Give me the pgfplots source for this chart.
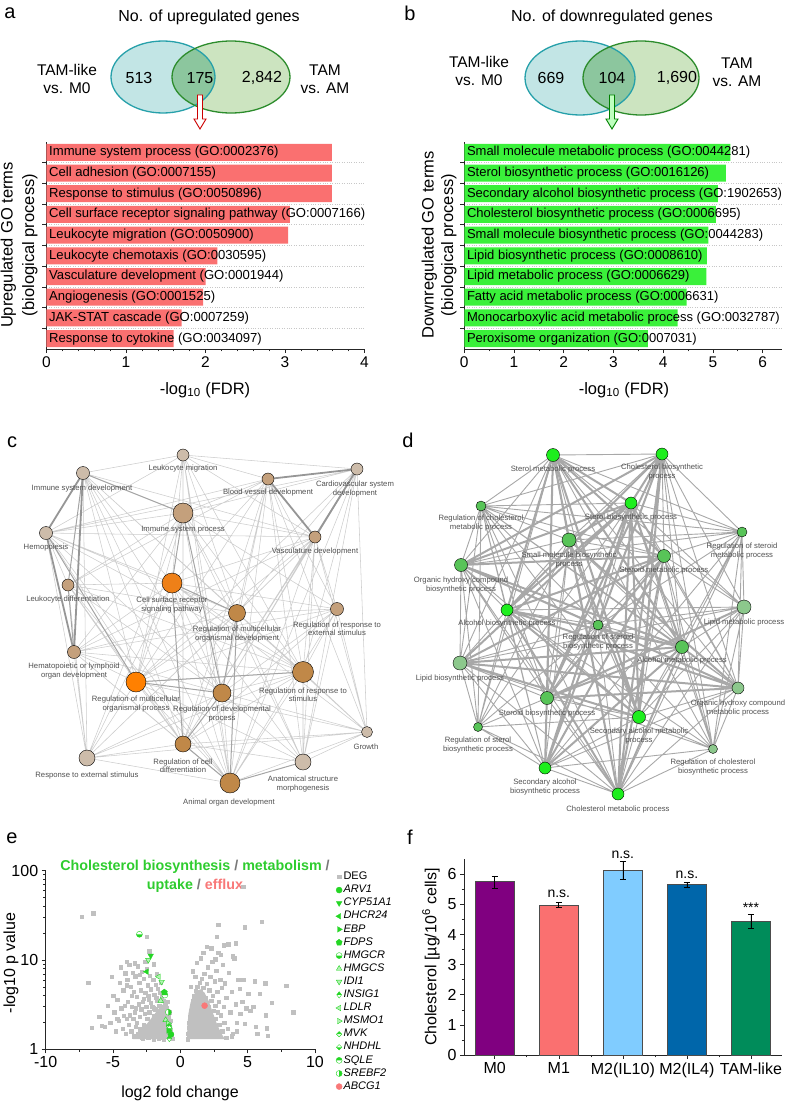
\documentclass[border=0pt]{standalone}
\usepackage{fontspec}
\setmainfont{Liberation Sans}
\usepackage{pgfplots}
\pgfplotsset{compat=1.18}
\usetikzlibrary{plotmarks}

\definecolor{barred}{RGB}{250,112,112}
\definecolor{bargreen}{RGB}{58,240,58}
\definecolor{vLfill}{RGB}{194,229,229}
\definecolor{vLdraw}{RGB}{38,160,170}
\definecolor{vRfill}{RGB}{204,228,192}
\definecolor{vRdraw}{RGB}{44,140,44}
\definecolor{vMid}{RGB}{140,198,158}
\definecolor{edgeL}{RGB}{205,205,205}
\definecolor{edgeM}{RGB}{165,165,165}
\definecolor{edgeT}{RGB}{150,150,150}
\definecolor{nPale}{RGB}{205,188,170}
\definecolor{nMed}{RGB}{196,160,124}
\definecolor{nBrown}{RGB}{192,136,72}
\definecolor{nOr1}{RGB}{238,128,24}
\definecolor{nOr2}{RGB}{255,128,0}
\definecolor{dEdge}{RGB}{168,168,168}
\definecolor{gBright}{RGB}{30,238,30}
\definecolor{gMed}{RGB}{88,196,88}
\definecolor{gPale}{RGB}{140,200,140}
\definecolor{lbl}{RGB}{80,80,80}
\definecolor{degray}{RGB}{192,192,192}
\definecolor{cgreen}{RGB}{36,214,36}
\definecolor{tgreen}{RGB}{46,204,46}
\definecolor{efflux}{RGB}{248,120,120}
\definecolor{slashg}{RGB}{120,120,120}
\definecolor{cM0}{RGB}{128,0,128}
\definecolor{cM1}{RGB}{250,112,112}
\definecolor{cIL10}{RGB}{128,204,255}
\definecolor{cIL4}{RGB}{0,102,170}
\definecolor{cTAM}{RGB}{0,140,90}

\newcommand{\lab}{\fontsize{7.7}{8.3}\selectfont\color{lbl}}

\begin{document}
\begin{tikzpicture}
\useasboundingbox (0,0) rectangle (789pt,1103pt);

%================ overlay (pixel) axis =================
\begin{axis}[at={(0pt,0pt)}, anchor=south west, scale only axis,
  width=789pt, height=1103pt, xmin=0, xmax=789, ymin=0, ymax=1103,
  y dir=reverse, hide axis, clip=false, unbounded coords=jump]

% panel letters
\node[font=\fontsize{20}{20}\selectfont] at (10,13) {a};
\node[font=\fontsize{20}{20}\selectfont] at (410,13) {b};
\node[font=\fontsize{20}{20}\selectfont] at (12,442) {c};
\node[font=\fontsize{20}{20}\selectfont] at (408,440) {d};
\node[font=\fontsize{20}{20}\selectfont] at (12,838) {e};
\node[font=\fontsize{20}{20}\selectfont] at (410,837) {f};

% ---- Venn a
\node[font=\fontsize{16}{16}\selectfont] at (209,17) {No. of upregulated genes};
\fill[vLfill] (163,77) ellipse [x radius=52pt, y radius=36pt];
\fill[vRfill] (231,77) ellipse [x radius=59pt, y radius=36pt];
\begin{scope}
\clip (163,77) ellipse [x radius=52pt, y radius=36pt];
\fill[vMid] (231,77) ellipse [x radius=59pt, y radius=36pt];
\end{scope}
\draw[vLdraw, line width=1.3pt] (163,77) ellipse [x radius=52pt, y radius=36pt];
\draw[vRdraw, line width=1.3pt] (231,77) ellipse [x radius=59pt, y radius=36pt];
\node[font=\fontsize{16}{16}\selectfont] at (139,78) {513};
\node[font=\fontsize{16}{16}\selectfont] at (200,78) {175};
\node[font=\fontsize{16}{16}\selectfont] at (262,78) {2,842};
\node[font=\fontsize{15.5}{18}\selectfont, align=center] at (67,79) {TAM-like\\vs. M0};
\node[font=\fontsize{15.5}{18}\selectfont, align=center] at (325,79) {TAM\\vs. AM};
\draw[red!80!black, fill=white, line width=0.9pt] (197.5,95) -- (202.5,95) -- (202.5,119) -- (206,119) -- (200,129) -- (194,119) -- (197.5,119) -- cycle;

% ---- Venn b
\node[font=\fontsize{16}{16}\selectfont] at (612,17) {No. of downregulated genes};
\fill[vLfill] (580,78) ellipse [x radius=55pt, y radius=37pt];
\fill[vRfill] (641,78) ellipse [x radius=58pt, y radius=37pt];
\begin{scope}
\clip (580,78) ellipse [x radius=55pt, y radius=37pt];
\fill[vMid] (641,78) ellipse [x radius=58pt, y radius=37pt];
\end{scope}
\draw[vLdraw, line width=1.3pt] (580,78) ellipse [x radius=55pt, y radius=37pt];
\draw[vRdraw, line width=1.3pt] (641,78) ellipse [x radius=58pt, y radius=37pt];
\node[font=\fontsize{16}{16}\selectfont] at (551,78) {669};
\node[font=\fontsize{16}{16}\selectfont] at (612,78) {104};
\node[font=\fontsize{16}{16}\selectfont] at (677,78) {1,690};
\node[font=\fontsize{15.5}{18}\selectfont, align=center] at (479,71) {TAM-like\\vs. M0};
\node[font=\fontsize{15.5}{18}\selectfont, align=center] at (737,72) {TAM\\vs. AM};
\draw[green!50!black, fill=green!25!white, line width=0.9pt] (609.5,95) -- (614.5,95) -- (614.5,119) -- (618,119) -- (612,129) -- (606,119) -- (609.5,119) -- cycle;

% axis titles of a, b
\node[rotate=90, align=center, font=\fontsize{16.5}{21.5}\selectfont] at (19,245) {Upregulated GO terms\\(biological process)};
\node[rotate=90, align=center, font=\fontsize{16.5}{19.5}\selectfont] at (439,245) {Downregulated GO terms\\(biological process)};
\node[font=\fontsize{16.5}{16.5}\selectfont] at (205,390) {-log\textsubscript{10} (FDR)};
\node[font=\fontsize{16.5}{16.5}\selectfont] at (624,390) {-log\textsubscript{10} (FDR)};

% ---- network c: edges
\addplot[edgeL, line width=0.55pt, line join=round, line cap=round] coordinates {
(183,455) (83,473) (183,455) (357,469) (183,455) (183,513) (183,455) (268,479) (183,455) (172,583) (183,455) (237,613) (183,455) (222,693) (183,455) (136,682) (183,455) (183,744) (183,455) (315,537) (183,455) (46,533) (183,455) (303,672) (183,455) (230,783) (nan,nan)
(83,473) (183,513) (83,473) (172,583) (83,473) (237,613) (83,473) (136,682) (83,473) (222,693) (83,473) (183,744) (83,473) (303,672) (83,473) (230,783) (83,473) (87,758) (83,473) (315,537) (nan,nan)
(268,479) (183,513) (268,479) (46,533) (268,479) (172,583) (268,479) (237,613) (268,479) (337,609) (268,479) (222,693) (268,479) (303,672) (268,479) (183,744) (268,479) (230,783) (268,479) (303,762) (268,479) (367,732) (268,479) (136,682) (268,479) (68,585) (nan,nan)
(357,469) (183,513) (357,469) (237,613) (357,469) (303,672) (357,469) (222,693) (357,469) (183,744) (357,469) (230,783) (357,469) (303,762) (357,469) (367,732) (357,469) (136,682) (357,469) (46,533) (nan,nan)
(183,513) (46,533) (183,513) (315,537) (183,513) (237,613) (183,513) (136,682) (183,513) (303,672) (183,513) (183,744) (183,513) (230,783) (183,513) (87,758) (183,513) (74,652) (183,513) (68,585) (183,513) (337,609) (183,513) (303,762) (nan,nan)
(46,533) (68,585) (46,533) (172,583) (46,533) (237,613) (46,533) (222,693) (46,533) (183,744) (46,533) (230,783) (46,533) (87,758) (46,533) (315,537) (46,533) (303,672) (nan,nan)
(315,537) (172,583) (315,537) (237,613) (315,537) (136,682) (315,537) (222,693) (315,537) (183,744) (315,537) (230,783) (315,537) (303,762) (315,537) (367,732) (315,537) (337,609) (315,537) (74,652) (315,537) (303,672) (315,537) (87,758) (nan,nan)
(68,585) (172,583) (68,585) (136,682) (68,585) (222,693) (68,585) (183,744) (68,585) (230,783) (68,585) (87,758) (68,585) (237,613) (68,585) (303,672) (nan,nan)
(172,583) (337,609) (172,583) (136,682) (172,583) (222,693) (172,583) (303,672) (172,583) (230,783) (172,583) (303,762) (172,583) (87,758) (172,583) (74,652) (172,583) (367,732) (nan,nan)
(237,613) (337,609) (237,613) (136,682) (237,613) (303,672) (237,613) (183,744) (237,613) (303,762) (237,613) (74,652) (237,613) (87,758) (237,613) (367,732) (nan,nan)
(337,609) (136,682) (337,609) (222,693) (337,609) (303,672) (337,609) (183,744) (337,609) (230,783) (337,609) (303,762) (337,609) (367,732) (337,609) (74,652) (nan,nan)
(74,652) (136,682) (74,652) (222,693) (74,652) (183,744) (74,652) (230,783) (74,652) (87,758) (74,652) (303,672) (nan,nan)
(136,682) (303,672) (136,682) (183,744) (136,682) (230,783) (136,682) (87,758) (136,682) (303,762) (136,682) (367,732) (nan,nan)
(222,693) (303,672) (222,693) (230,783) (222,693) (303,762) (222,693) (87,758) (222,693) (367,732) (nan,nan)
(303,672) (183,744) (303,672) (230,783) (303,672) (303,762) (303,672) (367,732) (303,672) (87,758) (nan,nan)
(183,744) (303,762) (183,744) (87,758) (183,744) (367,732) (nan,nan)
(367,732) (303,762) (367,732) (230,783) (367,732) (87,758) (nan,nan)
(230,783) (87,758)
};
\addplot[edgeM, line width=1pt, line cap=round] coordinates {
(83,473) (183,513) (nan,nan) (83,473) (68,585) (nan,nan) (46,533) (136,682) (nan,nan)
(172,583) (237,613) (nan,nan) (136,682) (222,693) (nan,nan) (237,613) (222,693) (nan,nan)
(222,693) (183,744) (nan,nan) (183,744) (230,783) (nan,nan) (230,783) (303,762) (nan,nan)
(237,613) (230,783) (nan,nan) (183,513) (222,693) (nan,nan) (183,513) (172,583) (nan,nan)
(172,583) (183,744) (nan,nan) (68,585) (74,652) (nan,nan) (136,682) (303,672)
};
\addplot[edgeT, line width=1.8pt, line cap=round] coordinates {
(83,473) (46,533) (nan,nan) (83,473) (74,652) (nan,nan) (46,533) (74,652) (nan,nan)
(268,479) (315,537) (nan,nan) (357,469) (315,537) (nan,nan) (268,479) (357,469)
};
% ---- network c: nodes
\addplot[only marks, mark=*, mark size=6pt, mark options={draw=none, fill=nPale}] coordinates {(183,455)};
\addplot[only marks, mark=*, mark size=6.5pt, mark options={draw=none, fill=nPale}] coordinates {(83,473)};
\addplot[only marks, mark=*, mark size=6pt, mark options={draw=none, fill=nMed}] coordinates {(268,479)};
\addplot[only marks, mark=*, mark size=6pt, mark options={draw=none, fill=nPale}] coordinates {(357,469)};
\addplot[only marks, mark=*, mark size=10pt, mark options={draw=none, fill=nMed}] coordinates {(183,513)};
\addplot[only marks, mark=*, mark size=6.5pt, mark options={draw=none, fill=nPale}] coordinates {(46,533)};
\addplot[only marks, mark=*, mark size=6pt, mark options={draw=none, fill=nMed}] coordinates {(315,537)};
\addplot[only marks, mark=*, mark size=6pt, mark options={draw=none, fill=nMed}] coordinates {(68,585)};
\addplot[only marks, mark=*, mark size=10pt, mark options={draw=none, fill=nOr1}] coordinates {(172,583)};
\addplot[only marks, mark=*, mark size=8.5pt, mark options={draw=none, fill=nBrown}] coordinates {(237,613)};
\addplot[only marks, mark=*, mark size=6.5pt, mark options={draw=none, fill=nMed}] coordinates {(337,609)};
\addplot[only marks, mark=*, mark size=6.5pt, mark options={draw=none, fill=nMed}] coordinates {(74,652)};
\addplot[only marks, mark=*, mark size=10pt, mark options={draw=none, fill=nOr2}] coordinates {(136,682)};
\addplot[only marks, mark=*, mark size=9pt, mark options={draw=none, fill=nBrown}] coordinates {(222,693)};
\addplot[only marks, mark=*, mark size=10.5pt, mark options={draw=none, fill=nBrown}] coordinates {(303,672)};
\addplot[only marks, mark=*, mark size=5.5pt, mark options={draw=none, fill=nPale}] coordinates {(367,732)};
\addplot[only marks, mark=*, mark size=8pt, mark options={draw=none, fill=nBrown}] coordinates {(183,744)};
\addplot[only marks, mark=*, mark size=8pt, mark options={draw=none, fill=nPale}] coordinates {(87,758)};
\addplot[only marks, mark=*, mark size=8pt, mark options={draw=none, fill=nPale}] coordinates {(303,762)};
\addplot[only marks, mark=*, mark size=10pt, mark options={draw=none, fill=nBrown}] coordinates {(230,783)};
% ---- network c: labels
\node[font=\lab] at (183,469) {Leukocyte migration};
\node[font=\lab] at (82,489) {Immune system development};
\node[font=\lab] at (268,493) {Blood vessel development};
\node[font=\lab, align=center] at (355,489) {Cardiovascular system\\development};
\node[font=\lab] at (183,530) {Immune system process};
\node[font=\lab] at (46,548) {Hemopoiesis};
\node[font=\lab] at (315,552) {Vasculature development};
\node[font=\lab] at (68,600) {Leukocyte differentiation};
\node[font=\lab, align=center] at (172,605) {Cell surface receptor\\signaling pathway};
\node[font=\lab, align=center] at (237,634) {Regulation of multicellular\\organismal development};
\node[font=\lab, align=center] at (337,629) {Regulation of response to\\external stimulus};
\node[font=\lab, align=center] at (74,671) {Hematopoietic or lymphoid\\organ development};
\node[font=\lab, align=center] at (136,704) {Regulation of multicellular\\organismal process};
\node[font=\lab, align=center] at (222,714) {Regulation of developmental\\process};
\node[font=\lab, align=center] at (303,695) {Regulation of response to\\stimulus};
\node[font=\lab] at (366,747) {Growth};
\node[font=\lab, align=center] at (183,766) {Regulation of cell\\differentiation};
\node[font=\lab] at (87,775) {Response to external stimulus};
\node[font=\lab, align=center] at (303,784) {Anatomical structure\\morphogenesis};
\node[font=\lab] at (229,802) {Animal organ development};

% ---- network d: edges
\addplot[dEdge, line width=0.9pt, line join=round, line cap=round] coordinates {
(553,455) (662,454) (553,455) (481,506) (553,455) (742,532) (553,455) (461,565) (553,455) (598,625) (553,455) (460,663) (553,455) (744,607) (553,455) (738,688) (553,455) (478,727) (553,455) (713,749) (nan,nan)
(662,454) (481,506) (662,454) (742,532) (662,454) (569,540) (662,454) (664,556) (662,454) (598,625) (662,454) (682,647) (662,454) (744,607) (662,454) (738,688) (662,454) (713,749) (nan,nan)
(631,503) (481,506) (631,503) (742,532) (631,503) (664,556) (631,503) (598,625) (631,503) (744,607) (631,503) (738,688) (631,503) (478,727) (631,503) (713,749) (nan,nan)
(481,506) (742,532) (481,506) (569,540) (481,506) (664,556) (481,506) (461,565) (481,506) (507,610) (481,506) (598,625) (481,506) (682,647) (481,506) (460,663) (481,506) (547,698) (481,506) (639,717) (481,506) (545,768) (481,506) (618,794) (481,506) (478,727) (481,506) (738,688) (nan,nan)
(742,532) (569,540) (742,532) (664,556) (742,532) (461,565) (742,532) (744,607) (742,532) (598,625) (742,532) (682,647) (742,532) (738,688) (742,532) (713,749) (742,532) (639,717) (742,532) (545,768) (742,532) (618,794) (nan,nan)
(569,540) (664,556) (569,540) (461,565) (569,540) (507,610) (569,540) (598,625) (569,540) (682,647) (569,540) (460,663) (569,540) (547,698) (569,540) (545,768) (569,540) (478,727) (nan,nan)
(664,556) (598,625) (664,556) (682,647) (664,556) (744,607) (664,556) (738,688) (664,556) (639,717) (664,556) (713,749) (nan,nan)
(461,565) (507,610) (461,565) (598,625) (461,565) (460,663) (461,565) (547,698) (461,565) (639,717) (461,565) (478,727) (461,565) (545,768) (461,565) (618,794) (nan,nan)
(507,610) (598,625) (507,610) (460,663) (507,610) (547,698) (507,610) (478,727) (507,610) (545,768) (507,610) (744,607) (507,610) (713,749) (nan,nan)
(744,607) (598,625) (744,607) (682,647) (744,607) (738,688) (744,607) (639,717) (744,607) (713,749) (744,607) (618,794) (744,607) (460,663) (nan,nan)
(598,625) (682,647) (598,625) (460,663) (598,625) (547,698) (598,625) (639,717) (598,625) (478,727) (598,625) (713,749) (598,625) (545,768) (598,625) (618,794) (nan,nan)
(682,647) (738,688) (682,647) (639,717) (682,647) (713,749) (nan,nan)
(460,663) (547,698) (460,663) (478,727) (460,663) (545,768) (460,663) (618,794) (460,663) (713,749) (nan,nan)
(738,688) (639,717) (738,688) (713,749) (738,688) (545,768) (738,688) (618,794) (nan,nan)
(547,698) (639,717) (547,698) (478,727) (547,698) (545,768) (547,698) (618,794) (nan,nan)
(639,717) (478,727) (639,717) (713,749) (639,717) (545,768) (639,717) (618,794) (nan,nan)
(478,727) (545,768) (478,727) (618,794) (nan,nan)
(713,749) (545,768) (713,749) (618,794) (nan,nan)
(545,768) (618,794)
};
\addplot[dEdge, line width=2pt, line join=round, line cap=round] coordinates {
(553,455) (631,503) (553,455) (569,540) (553,455) (507,610) (553,455) (547,698) (553,455) (545,768) (553,455) (618,794) (553,455) (639,717) (553,455) (682,647) (553,455) (664,556) (nan,nan)
(662,454) (631,503) (662,454) (507,610) (662,454) (547,698) (662,454) (545,768) (662,454) (618,794) (662,454) (639,717) (662,454) (461,565) (nan,nan)
(631,503) (569,540) (631,503) (507,610) (631,503) (547,698) (631,503) (545,768) (631,503) (618,794) (631,503) (639,717) (631,503) (682,647) (631,503) (460,663) (631,503) (461,565) (nan,nan)
(664,556) (461,565) (664,556) (507,610) (664,556) (547,698) (664,556) (545,768) (664,556) (618,794) (664,556) (460,663) (nan,nan)
(507,610) (682,647) (507,610) (639,717) (507,610) (738,688) (507,610) (618,794) (nan,nan)
(682,647) (547,698) (682,647) (545,768) (682,647) (460,663) (682,647) (618,794) (nan,nan)
(569,540) (639,717) (569,540) (618,794) (569,540) (738,688) (nan,nan)
(460,663) (738,688) (460,663) (639,717) (nan,nan)
(547,698) (744,607) (547,698) (738,688) (nan,nan)
(461,565) (738,688) (461,565) (682,647)
};
% ---- network d: nodes
\addplot[only marks, mark=*, mark size=6.5pt, mark options={draw=none, fill=gBright}] coordinates {(553,455)};
\addplot[only marks, mark=*, mark size=6pt, mark options={draw=none, fill=gBright}] coordinates {(662,454)};
\addplot[only marks, mark=*, mark size=6pt, mark options={draw=none, fill=gBright}] coordinates {(631,503)};
\addplot[only marks, mark=*, mark size=5pt, mark options={draw=none, fill=gMed}] coordinates {(481,506)};
\addplot[only marks, mark=*, mark size=5pt, mark options={draw=none, fill=gMed}] coordinates {(742,532)};
\addplot[only marks, mark=*, mark size=7pt, mark options={draw=none, fill=gMed}] coordinates {(569,540)};
\addplot[only marks, mark=*, mark size=6.5pt, mark options={draw=none, fill=gMed}] coordinates {(664,556)};
\addplot[only marks, mark=*, mark size=6.5pt, mark options={draw=none, fill=gMed}] coordinates {(461,565)};
\addplot[only marks, mark=*, mark size=6pt, mark options={draw=none, fill=gBright}] coordinates {(507,610)};
\addplot[only marks, mark=*, mark size=7pt, mark options={draw=none, fill=gPale}] coordinates {(744,607)};
\addplot[only marks, mark=*, mark size=5pt, mark options={draw=none, fill=gMed}] coordinates {(598,625)};
\addplot[only marks, mark=*, mark size=6.5pt, mark options={draw=none, fill=gMed}] coordinates {(682,647)};
\addplot[only marks, mark=*, mark size=7pt, mark options={draw=none, fill=gPale}] coordinates {(460,663)};
\addplot[only marks, mark=*, mark size=6pt, mark options={draw=none, fill=gPale}] coordinates {(738,688)};
\addplot[only marks, mark=*, mark size=6.5pt, mark options={draw=none, fill=gMed}] coordinates {(547,698)};
\addplot[only marks, mark=*, mark size=6.5pt, mark options={draw=none, fill=gBright}] coordinates {(639,717)};
\addplot[only marks, mark=*, mark size=4.5pt, mark options={draw=none, fill=gMed}] coordinates {(478,727)};
\addplot[only marks, mark=*, mark size=4.5pt, mark options={draw=none, fill=gPale}] coordinates {(713,749)};
\addplot[only marks, mark=*, mark size=6pt, mark options={draw=none, fill=gBright}] coordinates {(545,768)};
\addplot[only marks, mark=*, mark size=6pt, mark options={draw=none, fill=gBright}] coordinates {(618,794)};
% ---- network d: labels
\node[font=\lab] at (553,470) {Sterol metabolic process};
\node[font=\lab, align=center] at (662,472) {Cholesterol biosynthetic\\process};
\node[font=\lab] at (631,518) {Sterol biosynthetic process};
\node[font=\lab, align=center] at (481,523) {Regulation of cholesterol\\metabolic process};
\node[font=\lab, align=center] at (742,551) {Regulation of steroid\\metabolic process};
\node[font=\lab, align=center] at (569,560) {Small molecule biosynthetic\\process};
\node[font=\lab] at (664,571) {Steroid metabolic process};
\node[font=\lab, align=center] at (461,585) {Organic hydroxy compound\\biosynthetic process};
\node[font=\lab] at (507,624) {Alcohol biosynthetic process};
\node[font=\lab] at (744,623) {Lipid metabolic process};
\node[font=\lab, align=center] at (598,642) {Regulation of steroid\\biosynthetic process};
\node[font=\lab] at (682,661) {Alcohol metabolic process};
\node[font=\lab] at (460,679) {Lipid biosynthetic process};
\node[font=\lab, align=center] at (738,708) {Organic hydroxy compound\\metabolic process};
\node[font=\lab] at (547,713) {Steroid biosynthetic process};
\node[font=\lab, align=center] at (639,736) {Secondary alcohol metabolic\\process};
\node[font=\lab, align=center] at (478,745) {Regulation of sterol\\biosynthetic process};
\node[font=\lab, align=center] at (713,767) {Regulation of cholesterol\\biosynthetic process};
\node[font=\lab, align=center] at (545,787) {Secondary alcohol\\biosynthetic process};
\node[font=\lab] at (618,809) {Cholesterol metabolic process};

% ---- e title and labels
\node[font=\fontsize{14.3}{14.3}\selectfont\bfseries] at (195,867) {\color{tgreen}Cholesterol biosynthesis \color{slashg}/ \color{tgreen}metabolism \color{slashg}/};
\node[font=\fontsize{14.3}{14.3}\selectfont\bfseries] at (195,886) {\color{tgreen}uptake \color{slashg}/ \color{efflux}efflux};
\node[rotate=90, font=\fontsize{16}{16}\selectfont] at (11,963) {-log10 p value};
\node[font=\fontsize{16}{16}\selectfont] at (180,1093) {log2 fold change};
% ---- f label
\node[rotate=90, font=\fontsize{16}{16}\selectfont] at (431,957) {Cholesterol [µg/10\textsuperscript{6} cells]};
\end{axis}

%================ panel a bars =================
\begin{axis}[at={(46.5pt,754pt)}, anchor=south west, scale only axis,
  width=318pt, height=207pt, xmin=0, xmax=4, ymin=-0.5, ymax=9.5,
  axis x line*=bottom, axis y line*=left,
  axis line style={line width=0.8pt, black!85},
  xtick={0,1,2,3,4}, minor x tick num=4,
  ytick={0.5,1.5,...,8.5}, yticklabels={},
  ymajorgrids, grid style={dotted, black!22, line width=0.6pt},
  tick align=outside, major tick length=4pt, minor tick length=2.5pt,
  tick style={black!85, line width=0.6pt},
  xticklabel style={font=\fontsize{15.5}{15.5}\selectfont},
  /pgf/number format/assume math mode=true, clip=false]
\addplot[xbar, bar width=17pt, bar shift=0pt, fill=barred, draw=none] coordinates {(3.59,9) (3.59,8) (3.59,7) (3.06,6) (3.04,5) (2.15,4) (2.00,3) (1.97,2) (1.70,1) (1.60,0)};
\node[anchor=west, inner sep=2.5pt, font=\fontsize{13.1}{13.1}\selectfont] at (axis cs:0,9) {Immune system process (GO:0002376)};
\node[anchor=west, inner sep=2.5pt, font=\fontsize{13.1}{13.1}\selectfont] at (axis cs:0,8) {Cell adhesion (GO:0007155)};
\node[anchor=west, inner sep=2.5pt, font=\fontsize{13.1}{13.1}\selectfont] at (axis cs:0,7) {Response to stimulus (GO:0050896)};
\node[anchor=west, inner sep=2.5pt, font=\fontsize{13.1}{13.1}\selectfont] at (axis cs:0,6) {Cell surface receptor signaling pathway (GO:0007166)};
\node[anchor=west, inner sep=2.5pt, font=\fontsize{13.1}{13.1}\selectfont] at (axis cs:0,5) {Leukocyte migration (GO:0050900)};
\node[anchor=west, inner sep=2.5pt, font=\fontsize{13.1}{13.1}\selectfont] at (axis cs:0,4) {Leukocyte chemotaxis (GO:0030595)};
\node[anchor=west, inner sep=2.5pt, font=\fontsize{13.1}{13.1}\selectfont] at (axis cs:0,3) {Vasculature development (GO:0001944)};
\node[anchor=west, inner sep=2.5pt, font=\fontsize{13.1}{13.1}\selectfont] at (axis cs:0,2) {Angiogenesis (GO:0001525)};
\node[anchor=west, inner sep=2.5pt, font=\fontsize{13.1}{13.1}\selectfont] at (axis cs:0,1) {JAK-STAT cascade (GO:0007259)};
\node[anchor=west, inner sep=2.5pt, font=\fontsize{13.1}{13.1}\selectfont] at (axis cs:0,0) {Response to cytokine (GO:0034097)};
\end{axis}

%================ panel b bars =================
\begin{axis}[at={(464.3pt,754pt)}, anchor=south west, scale only axis,
  width=317.7pt, height=207pt, xmin=0, xmax=6.39, ymin=-0.5, ymax=9.5,
  axis x line*=bottom, axis y line*=left,
  axis line style={line width=0.8pt, black!85},
  xtick={0,1,2,3,4,5,6}, minor x tick num=1,
  ytick={0.5,1.5,...,8.5}, yticklabels={},
  ymajorgrids, grid style={dotted, black!22, line width=0.6pt},
  tick align=outside, major tick length=4pt, minor tick length=2.5pt,
  tick style={black!85, line width=0.6pt},
  xticklabel style={font=\fontsize{15.5}{15.5}\selectfont},
  /pgf/number format/assume math mode=true, clip=false]
\addplot[xbar, bar width=17pt, bar shift=0pt, fill=bargreen, draw=none] coordinates {(5.35,9) (5.26,8) (5.10,7) (5.06,6) (4.91,5) (4.88,4) (4.87,3) (4.47,2) (4.29,1) (3.69,0)};
\node[anchor=west, inner sep=2.5pt, font=\fontsize{13}{13}\selectfont] at (axis cs:0,9) {Small molecule metabolic process (GO:0044281)};
\node[anchor=west, inner sep=2.5pt, font=\fontsize{13}{13}\selectfont] at (axis cs:0,8) {Sterol biosynthetic process (GO:0016126)};
\node[anchor=west, inner sep=2.5pt, font=\fontsize{13}{13}\selectfont] at (axis cs:0,7) {Secondary alcohol biosynthetic process (GO:1902653)};
\node[anchor=west, inner sep=2.5pt, font=\fontsize{13}{13}\selectfont] at (axis cs:0,6) {Cholesterol biosynthetic process (GO:0006695)};
\node[anchor=west, inner sep=2.5pt, font=\fontsize{13}{13}\selectfont] at (axis cs:0,5) {Small molecule biosynthetic process (GO:0044283)};
\node[anchor=west, inner sep=2.5pt, font=\fontsize{13}{13}\selectfont] at (axis cs:0,4) {Lipid biosynthetic process (GO:0008610)};
\node[anchor=west, inner sep=2.5pt, font=\fontsize{13}{13}\selectfont] at (axis cs:0,3) {Lipid metabolic process (GO:0006629)};
\node[anchor=west, inner sep=2.5pt, font=\fontsize{13}{13}\selectfont] at (axis cs:0,2) {Fatty acid metabolic process (GO:0006631)};
\node[anchor=west, inner sep=2.5pt, font=\fontsize{13}{13}\selectfont] at (axis cs:0,1) {Monocarboxylic acid metabolic process (GO:0032787)};
\node[anchor=west, inner sep=2.5pt, font=\fontsize{13}{13}\selectfont] at (axis cs:0,0) {Peroxisome organization (GO:0007031)};
\end{axis}

%================ panel e volcano =================
\begin{axis}[at={(45.7pt,53.7pt)}, anchor=south west, scale only axis,
  width=269.3pt, height=178.6pt, xmin=-10, xmax=10, ymode=log, ymin=1, ymax=100,
  log ticks with fixed point,
  axis x line*=bottom, axis y line*=left,
  axis line style={line width=0.8pt, black!85},
  xtick={-10,-5,0,5,10}, minor xtick={-7.5,-2.5,2.5,7.5}, ytick={1,10,100},
  tick align=outside, major tick length=4pt, minor tick length=2.5pt,
  tick style={black!85, line width=0.6pt},
  ticklabel style={font=\fontsize{16}{16}\selectfont},
  /pgf/number format/assume math mode=true, clip=false,
  legend style={at={(1.077,0.999)}, anchor=north west, draw=none, fill=none,
    inner sep=0pt, row sep=1.3pt,
    font=\fontsize{11}{11}\selectfont\itshape,
    nodes={inner sep=1.2pt, text height=7.4pt, text depth=2pt},
    /tikz/every even column/.append style={column sep=4pt}},
  legend cell align=left]
\addplot[fill=degray, draw=none, forget plot] coordinates {(-0.58,1.3) (-0.6,1.7) (-0.68,2.2) (-0.8,2.7) (-0.95,3.1) (-1.15,3.3) (-1.5,3.0) (-1.9,2.5) (-2.4,2.0) (-2.9,1.65) (-3.3,1.4) (-3.5,1.3)} --cycle;
\addplot[fill=degray, draw=none, forget plot] coordinates {(0.5,1.3) (0.52,1.8) (0.6,2.5) (0.75,3.3) (0.95,4.0) (1.2,4.5) (1.5,4.7) (1.8,4.3) (2.1,3.5) (2.4,2.6) (2.7,1.95) (3.0,1.55) (3.3,1.3)} --cycle;
\addplot[only marks, mark=square*, mark size=1.7pt, color=degray] coordinates {
(-0.62,1.32) (-0.66,1.45) (-0.7,1.62) (-0.74,1.38) (-0.78,1.8) (-0.82,2.05) (-0.86,1.52) (-0.9,2.3) (-0.94,1.68) (-0.98,2.6) (-1.02,1.42) (-1.06,2.9) (-1.1,1.95) (-1.14,3.2) (-1.18,2.25) (-1.22,1.55) (-1.26,3.5) (-1.3,2.7) (-1.34,1.75) (-1.38,3.9) (-1.42,2.1) (-1.46,1.35) (-1.5,4.3) (-1.54,2.5) (-1.58,3.1) (-1.62,1.6) (-1.66,4.8) (-1.7,2.0) (-1.74,3.5) (-1.78,1.45) (-1.82,5.3) (-1.86,2.8) (-1.9,1.85) (-1.94,4.1) (-1.98,2.35) (-2.02,6.0) (-2.06,1.5) (-2.1,3.0) (-2.14,2.0) (-2.18,4.7) (-2.22,1.7) (-2.26,6.7) (-2.3,2.6) (-2.34,3.6) (-2.38,1.4) (-2.42,5.2) (-2.46,2.2) (-2.5,8.0) (-2.54,3.0) (-2.58,1.6) (-2.62,4.3) (-2.66,2.5) (-2.7,6.2) (-2.74,1.9) (-2.78,3.4) (-2.82,1.35) (-2.86,7.4) (-2.9,2.8) (-2.94,4.6) (-2.98,1.7) (-3.02,2.3) (-3.06,5.6) (-3.1,3.2) (-3.14,1.5) (-3.18,8.5) (-3.22,2.0) (-3.26,3.9) (-3.3,1.8) (-3.34,6.6) (-3.38,2.6) (-3.42,1.4) (-3.46,4.4) (-3.5,2.2) (-3.55,7.2) (-3.6,3.0) (-3.65,1.6) (-3.7,5.0) (-3.75,2.4) (-3.8,8.8) (-3.85,1.9) (-3.9,3.4) (-3.95,6.0) (-4.0,2.2) (-4.05,1.5) (-4.1,7.1) (-4.15,3.06) (-4.2,2.36) (-4.25,4.6) (-4.3,1.7) (-4.4,2.9) (-4.5,5.6) (-4.6,2.1) (-4.7,3.6) (-4.8,1.6) (-4.9,2.6) (-5.0,4.0) (-5.2,2.0) (-5.4,3.1) (-5.6,1.8) (-4.45,8.3) (-4.0,9.6) (-3.4,9.2) (-2.5,18.3) (-2.3,12.5) (-2.0,9.0) (-1.75,7.0) (-1.45,5.6) (-1.15,4.2) (-0.95,3.4) (-0.8,2.6) (-0.7,2.1) (-1.25,1.3) (-1.6,1.33) (-2.0,1.3) (-2.4,1.36) (-2.8,1.32) (-1.9,1.42) (-1.3,1.5) (-1.0,1.8) (-1.2,2.0) (-1.5,2.3) (-1.7,2.6) (-2.0,2.9) (-2.2,3.3) (-1.8,3.8) (-1.4,3.0) (-1.1,2.5) (-2.6,1.75) (-3.0,1.55) (-3.3,2.9) (-2.7,3.7) (-2.4,4.0) (-3.6,4.0) (-4.0,5.2) (-3.0,6.8) (-2.6,9.5) (-7.33,30.5) (-6.46,33.3) (-6.83,5.6) (-6.04,2.3) (-6.58,1.75) (-5.84,1.84) (-5.1,6.5) (-4.7,2.2)
(0.55,1.3) (0.58,1.5) (0.62,1.75) (0.66,2.0) (0.7,1.4) (0.74,2.3) (0.78,1.6) (0.82,2.7) (0.86,3.1) (0.9,1.9) (0.94,3.5) (0.98,2.2) (1.02,4.0) (1.06,1.45) (1.1,2.9) (1.14,4.5) (1.18,1.7) (1.22,3.4) (1.26,5.0) (1.3,2.4) (1.34,3.9) (1.38,1.55) (1.42,5.6) (1.46,2.8) (1.5,4.4) (1.54,1.9) (1.58,6.2) (1.62,3.3) (1.66,2.1) (1.7,4.9) (1.74,1.4) (1.78,7.0) (1.82,2.6) (1.86,3.8) (1.9,1.65) (1.94,5.4) (1.98,2.3) (2.02,8.3) (2.06,3.0) (2.1,1.8) (2.14,4.6) (2.18,2.5) (2.22,6.5) (2.26,1.5) (2.3,3.5) (2.34,2.0) (2.38,9.5) (2.42,4.0) (2.46,2.7) (2.5,1.6) (2.54,5.8) (2.58,3.1) (2.62,2.2) (2.66,7.6) (2.7,1.4) (2.74,4.4) (2.78,2.6) (2.82,12.0) (2.86,3.4) (2.9,1.9) (2.95,6.0) (3.0,2.4) (3.05,4.9) (3.1,1.6) (3.15,8.8) (3.2,3.0) (3.25,2.0) (3.3,5.5) (3.4,3.8) (3.5,1.7) (3.6,7.2) (3.7,2.6) (3.8,4.4) (3.9,1.5) (4.0,10.5) (4.1,3.2) (4.2,2.0) (4.3,6.0) (4.43,2.5) (4.6,3.4) (4.68,6.0) (4.8,1.95) (5.05,4.2) (5.2,2.7) (5.4,3.0) (5.6,1.8) (5.9,4.2) (6.29,5.5) (6.36,2.4) (6.41,1.72) (6.5,1.41) (6.78,3.3) (7.85,5.16) (8.39,2.6) (2.82,25) (4.8,23.3) (6.04,27) (4.68,66) (2.7,18.3) (3.56,15) (4.13,15.4) (1.96,14) (3.2,14.6) (2.3,13.5) (3.9,11) (1.5,10.5) (0.9,7.5) (1.2,9.3) (3.0,11.5) (1.1,6.5) (0.75,5.0) (2.6,10.2) (5.5,5.8) (4.4,4.8) (4.9,2.9) (5.7,1.5) (3.4,1.35) (3.8,1.4) (4.2,1.6) (1.7,12.0)
};
\addlegendentry{\upshape DEG}
\addplot[only marks, mark=*, mark size=3pt, color=cgreen] coordinates {(-0.7,1.47)};
\addlegendentry{ARV1}
\addplot[only marks, mark=triangle*, mark size=3.2pt, color=cgreen, mark options={rotate=180}] coordinates {(-2.2,11.2)};
\addlegendentry{CYP51A1}
\addplot[only marks, mark=triangle*, mark size=3.2pt, color=cgreen, mark options={rotate=90}] coordinates {(-2.5,7.4)};
\addlegendentry{DHCR24}
\addplot[only marks, mark=triangle*, mark size=3.2pt, color=cgreen, mark options={rotate=-90}] coordinates {(-0.88,1.62)};
\addlegendentry{EBP}
\addplot[only marks, mark=pentagon*, mark size=3.2pt, color=cgreen] coordinates {(-1.19,4.35)};
\addlegendentry{FDPS}
\addplot[only marks, mark=halfcircle*, mark size=3pt, color=cgreen, mark options={fill=white, mark color=cgreen}] coordinates {(-3.04,19.4)};
\addlegendentry{HMGCR}
\addplot[only marks, mark=triangle*, mark size=3.2pt, color=cgreen, mark options={fill=cgreen!35}] coordinates {(-1.46,3.5) (-1.09,2.13)};
\addlegendentry{HMGCS}
\addplot[only marks, mark=triangle*, mark size=3.2pt, color=cgreen, mark options={rotate=180, fill=cgreen!35}] coordinates {(-2.38,10.0) (-1.39,5.7)};
\addlegendentry{IDI1}
\addplot[only marks, mark=halfdiamond*, mark size=3.2pt, color=cgreen, mark options={fill=white, mark color=cgreen}] coordinates {(-0.82,1.32)};
\addlegendentry{INSIG1}
\addplot[only marks, mark=triangle*, mark size=3.2pt, color=cgreen, mark options={rotate=90, fill=cgreen!35}] coordinates {(-1.61,6.5)};
\addlegendentry{LDLR}
\addplot[only marks, mark=triangle*, mark size=3.2pt, color=cgreen, mark options={rotate=-90, fill=cgreen!35}] coordinates {(-0.9,1.95)};
\addlegendentry{MSMO1}
\addplot[only marks, mark=halfsquare*, mark size=2.7pt, color=cgreen, mark options={fill=white, mark color=cgreen}] coordinates {(-0.84,1.82)};
\addlegendentry{MVK}
\addplot[only marks, mark=halfsquare*, mark size=2.7pt, color=cgreen, mark options={rotate=180, fill=white, mark color=cgreen}] coordinates {(-0.8,1.72)};
\addlegendentry{NHDHL}
\addplot[only marks, mark=halfcircle*, mark size=3pt, color=cgreen, mark options={rotate=180, fill=white, mark color=cgreen}] coordinates {(-1.15,4.05)};
\addlegendentry{SQLE}
\addplot[only marks, mark=halfcircle*, mark size=3pt, color=cgreen, mark options={rotate=90, fill=white, mark color=cgreen}] coordinates {(-0.89,2.6)};
\addlegendentry{SREBF2}
\addplot[only marks, mark=*, mark size=3pt, color=efflux] coordinates {(1.8,3.08)};
\addlegendentry{ABCG1}
\end{axis}

%================ panel f bars =================
\begin{axis}[at={(464pt,48pt)}, anchor=south west, scale only axis,
  width=317.7pt, height=195.7pt, xmin=-0.48, xmax=4.48, ymin=0, ymax=6.5,
  axis x line*=bottom, axis y line*=left,
  axis line style={line width=0.8pt, black!85},
  xtick={0,1,2,3,4}, xticklabels={M0,M1,M2(IL10),M2(IL4),TAM-like},
  minor xtick={0.5,1.5,2.5,3.5}, ytick={0,1,2,3,4,5,6}, minor y tick num=1,
  tick align=outside, major tick length=4pt, minor tick length=2.5pt,
  tick style={black!85, line width=0.6pt},
  xticklabel style={font=\fontsize{16}{16}\selectfont},
  yticklabel style={font=\fontsize{16}{16}\selectfont},
  /pgf/number format/assume math mode=true, clip=false]
\addplot[ybar, bar width=39pt, bar shift=0pt, fill=cM0, draw=black!70, line width=0.8pt,
  error bars/.cd, y dir=both, y explicit, error bar style={black, line width=0.7pt},
  error mark options={rotate=90, mark size=3pt, black, line width=0.7pt}] coordinates {(0,5.75) +- (0,0.2)};
\addplot[ybar, bar width=39pt, bar shift=0pt, fill=cM1, draw=black!70, line width=0.8pt,
  error bars/.cd, y dir=both, y explicit, error bar style={black, line width=0.7pt},
  error mark options={rotate=90, mark size=3pt, black, line width=0.7pt}] coordinates {(1,4.98) +- (0,0.08)};
\addplot[ybar, bar width=39pt, bar shift=0pt, fill=cIL10, draw=black!70, line width=0.8pt,
  error bars/.cd, y dir=both, y explicit, error bar style={black, line width=0.7pt},
  error mark options={rotate=90, mark size=3pt, black, line width=0.7pt}] coordinates {(2,6.14) +- (0,0.29)};
\addplot[ybar, bar width=39pt, bar shift=0pt, fill=cIL4, draw=black!70, line width=0.8pt,
  error bars/.cd, y dir=both, y explicit, error bar style={black, line width=0.7pt},
  error mark options={rotate=90, mark size=3pt, black, line width=0.7pt}] coordinates {(3,5.65) +- (0,0.08)};
\addplot[ybar, bar width=39pt, bar shift=0pt, fill=cTAM, draw=black!70, line width=0.8pt,
  error bars/.cd, y dir=both, y explicit, error bar style={black, line width=0.7pt},
  error mark options={rotate=90, mark size=3pt, black, line width=0.7pt}] coordinates {(4,4.45) +- (0,0.23)};
\node[font=\fontsize{14}{14}\selectfont] at (axis cs:1,5.34) {n.s.};
\node[font=\fontsize{14}{14}\selectfont] at (axis cs:2,6.66) {n.s.};
\node[font=\fontsize{14}{14}\selectfont] at (axis cs:3,5.97) {n.s.};
\node[font=\fontsize{14}{14}\selectfont] at (axis cs:4,4.88) {***};
\end{axis}
\end{tikzpicture}
\end{document}
